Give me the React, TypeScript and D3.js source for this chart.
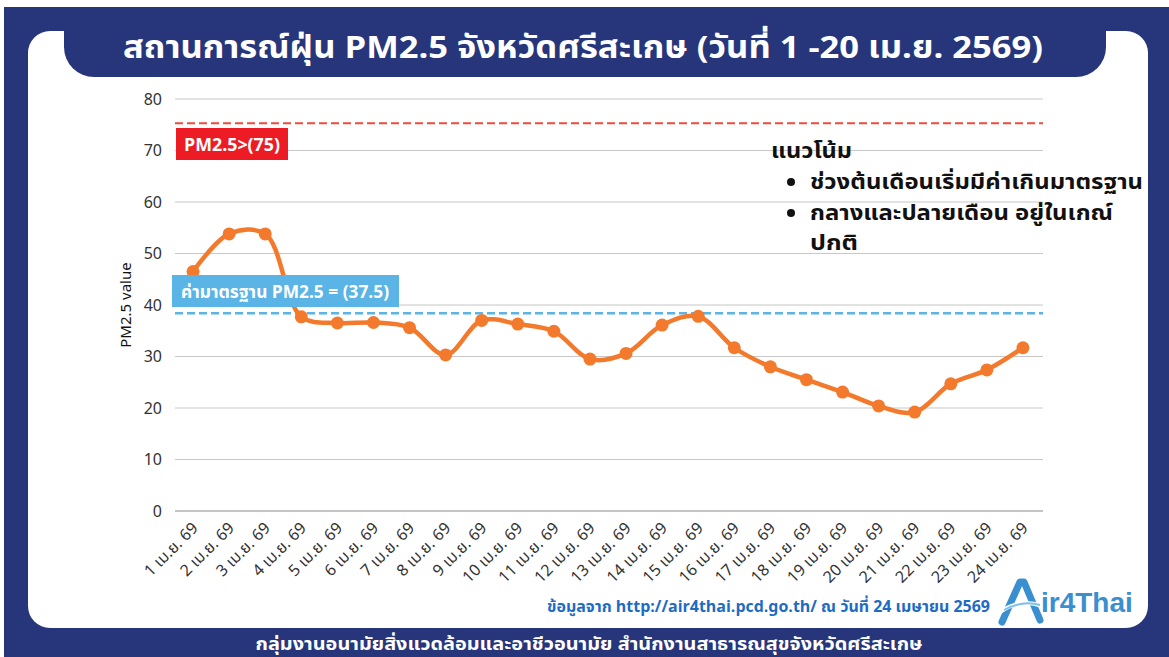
import * as d3 from "d3";

const W = 1169,
  H = 657,
  plotLeft = 175,
  plotRight = 1043,
  plotTop = 99,
  plotBottom = 511;

const NAVY = "#27367a";
const ORANGE = "#f37a2c";
const RED = "#ed1c24";
const BLUE = "#5ab4e5";
const THAI = "'Noto Sans Thai', 'Noto Sans', 'Liberation Sans', sans-serif";

const dayLabels = [
  "1 เม.ย. 69", "2 เม.ย. 69", "3 เม.ย. 69", "4 เม.ย. 69", "5 เม.ย. 69", "6 เม.ย. 69",
  "7 เม.ย. 69", "8 เม.ย. 69", "9 เม.ย. 69", "10 เม.ย. 69", "11 เม.ย. 69", "12 เม.ย. 69",
  "13 เม.ย. 69", "14 เม.ย. 69", "15 เม.ย. 69", "16 เม.ย. 69", "17 เม.ย. 69", "18 เม.ย. 69",
  "19 เม.ย. 69", "20 เม.ย. 69", "21 เม.ย. 69", "22 เม.ย. 69", "23 เม.ย. 69", "24 เม.ย. 69",
];

const pm25 = [
  46.5, 53.8, 53.8, 37.7, 36.5, 36.6, 35.6, 30.3, 37.0, 36.3, 34.9, 29.5,
  30.6, 36.1, 37.8, 31.7, 28.0, 25.5, 23.1, 20.4, 19.2, 24.7, 27.4, 31.7,
];

const yTicks = [0, 10, 20, 30, 40, 50, 60, 70, 80];

// reference lines (where they are drawn) and their label texts
const dangerLine = 75.3;
const standardLine = 38.4;
const dangerText = "PM2.5>(75)";
const standardText = "ค่ามาตรฐาน PM2.5 = (37.5)";

const titleText = "สถานการณ์ฝุ่น PM2.5 จังหวัดศรีสะเกษ (วันที่ 1 -20 เม.ย. 2569)";
const trendTitle = "แนวโน้ม";
const trendItems = ["ช่วงต้นเดือนเริ่มมีค่าเกินมาตรฐาน", "กลางและปลายเดือน อยู่ในเกณ์"];
const trendWidths = [333, 303];
const trendWrap = "ปกติ";
const sourceText = "ข้อมูลจาก http://air4thai.pcd.go.th/ ณ วันที่ 24 เมษายน 2569";
const footerText = "กลุ่มงานอนามัยสิ่งแวดล้อมและอาชีวอนามัย สำนักงานสาธารณสุขจังหวัดศรีสะเกษ";

export default function App() {
  const x = d3.scalePoint<string>().domain(dayLabels).range([plotLeft, plotRight - 2]).padding(0.5);
  const y = d3.scaleLinear().domain([0, 80]).range([plotBottom, plotTop]);

  const line = d3
    .line<number>()
    .x((_, i) => x(dayLabels[i])!)
    .y((d) => y(d))
    .curve(d3.curveCatmullRom.alpha(0.5));

  return (
    <svg
      width={W}
      height={H}
      viewBox={`0 0 ${W} ${H}`}
      style={{ position: "fixed", left: 0, top: 0, background: "#fff" }}
    >
      {/* frame */}
      <rect x={4} y={7} width={W - 4} height={H - 7} fill={NAVY} />
      <rect x={28} y={31} width={1120} height={597} rx={22} fill="#fff" />
      <rect x={64} y={-20} width={1042} height={97} rx={30} fill={NAVY} />
      <rect x={0} y={0} width={W} height={7} fill="#fff" />
      <text
        x={583}
        y={58}
        textAnchor="middle"
        fill="#fff"
        fontFamily={THAI}
        fontWeight="bold"
        fontSize={31}
        textLength={920}
        lengthAdjust="spacingAndGlyphs"
      >
        {titleText}
      </text>

      {/* grid */}
      {yTicks.map((t) => (
        <g key={t}>
          <line
            x1={plotLeft}
            x2={plotRight}
            y1={y(t)}
            y2={y(t)}
            stroke={t === 0 ? "#8c8c8c" : "#c8c8c8"}
            strokeWidth={1.2}
          />
          <text
            x={162}
            y={y(t)}
            dy="0.35em"
            textAnchor="end"
            fontFamily="'Noto Sans', 'Liberation Sans', sans-serif"
            fontSize={16}
            fill="#333"
          >
            {t}
          </text>
        </g>
      ))}
      <text
        transform={`translate(131,${y(40)}) rotate(-90)`}
        textAnchor="middle"
        fontFamily="'Noto Sans', 'Liberation Sans', sans-serif"
        fontSize={15}
        fill="#111"
      >
        PM2.5 value
      </text>

      {/* x labels */}
      {dayLabels.map((d) => (
        <text
          key={d}
          transform={`translate(${x(d)! + 6},${plotBottom + 18}) rotate(-45)`}
          textAnchor="end"
          fontFamily={THAI}
          fontSize={16}
          fill="#333"
        >
          {d}
        </text>
      ))}

      {/* trend legend */}
      <g fontFamily={THAI} fontWeight="bold" fontSize={21} fill="#111">
        <text x={771} y={158} textLength={81} lengthAdjust="spacingAndGlyphs">
          {trendTitle}
        </text>
        {trendItems.map((t, i) => (
          <g key={t}>
            <circle cx={791} cy={182 + i * 31} r={4} fill="#111" />
            <text
              x={810}
              y={189 + i * 31}
              textLength={trendWidths[i]}
              lengthAdjust="spacingAndGlyphs"
            >
              {t}
            </text>
          </g>
        ))}
        <text x={810} y={250} textLength={48} lengthAdjust="spacingAndGlyphs">
          {trendWrap}
        </text>
      </g>

      {/* reference lines */}
      <line
        x1={plotLeft}
        x2={plotRight}
        y1={y(dangerLine)}
        y2={y(dangerLine)}
        stroke="#f04a3a"
        strokeWidth={2}
        strokeDasharray="8,4"
      />
      <line
        x1={plotLeft}
        x2={plotRight}
        y1={y(standardLine)}
        y2={y(standardLine)}
        stroke={BLUE}
        strokeWidth={2.5}
        strokeDasharray="8,4"
      />

      {/* series */}
      <path d={line(pm25) ?? ""} fill="none" stroke={ORANGE} strokeWidth={4.5} />
      {pm25.map((v, i) => (
        <circle key={i} cx={x(dayLabels[i])} cy={y(v)} r={6.5} fill={ORANGE} />
      ))}

      {/* labels on top */}
      <rect x={176} y={128} width={112} height={32} fill={RED} />
      <text
        x={232}
        y={151}
        textAnchor="middle"
        fill="#fff"
        fontFamily={THAI}
        fontWeight="bold"
        fontSize={17}
        textLength={96}
        lengthAdjust="spacingAndGlyphs"
      >
        {dangerText}
      </text>
      <rect x={172} y={275} width={227} height={32} fill={BLUE} />
      <text
        x={285}
        y={298}
        textAnchor="middle"
        fill="#fff"
        fontFamily={THAI}
        fontWeight="bold"
        fontSize={18}
        textLength={208}
        lengthAdjust="spacingAndGlyphs"
      >
        {standardText}
      </text>

      {/* source + logo */}
      <text
        x={990}
        y={612}
        textAnchor="end"
        fill="#1e6bc4"
        fontFamily={THAI}
        fontWeight="bold"
        fontSize={16}
        textLength={443}
        lengthAdjust="spacingAndGlyphs"
      >
        {sourceText}
      </text>
      <g>
        <path
          d="M1002,622 L1020,582 L1024,582 L1040,620"
          fill="none"
          stroke="#3a8fd0"
          strokeWidth={7}
          strokeLinejoin="round"
          strokeLinecap="round"
        />
        <path d="M1000,612 Q1020,598 1042,606" fill="none" stroke="#fff" strokeWidth={4} />
        <path d="M1004,610 Q1022,600 1040,605" fill="none" stroke="#7cc0ea" strokeWidth={2} />
        <text
          x={1041}
          y={612}
          fill="#3a8fd0"
          fontFamily="'Liberation Sans', Arial, sans-serif"
          fontWeight="bold"
          fontSize={28}
        >
          ir4Thai
        </text>
      </g>

      {/* footer */}
      <text
        x={589}
        y={650}
        textAnchor="middle"
        fill="#fff"
        fontFamily={THAI}
        fontWeight="bold"
        fontSize={18}
        textLength={667}
        lengthAdjust="spacingAndGlyphs"
      >
        {footerText}
      </text>
    </svg>
  );
}
